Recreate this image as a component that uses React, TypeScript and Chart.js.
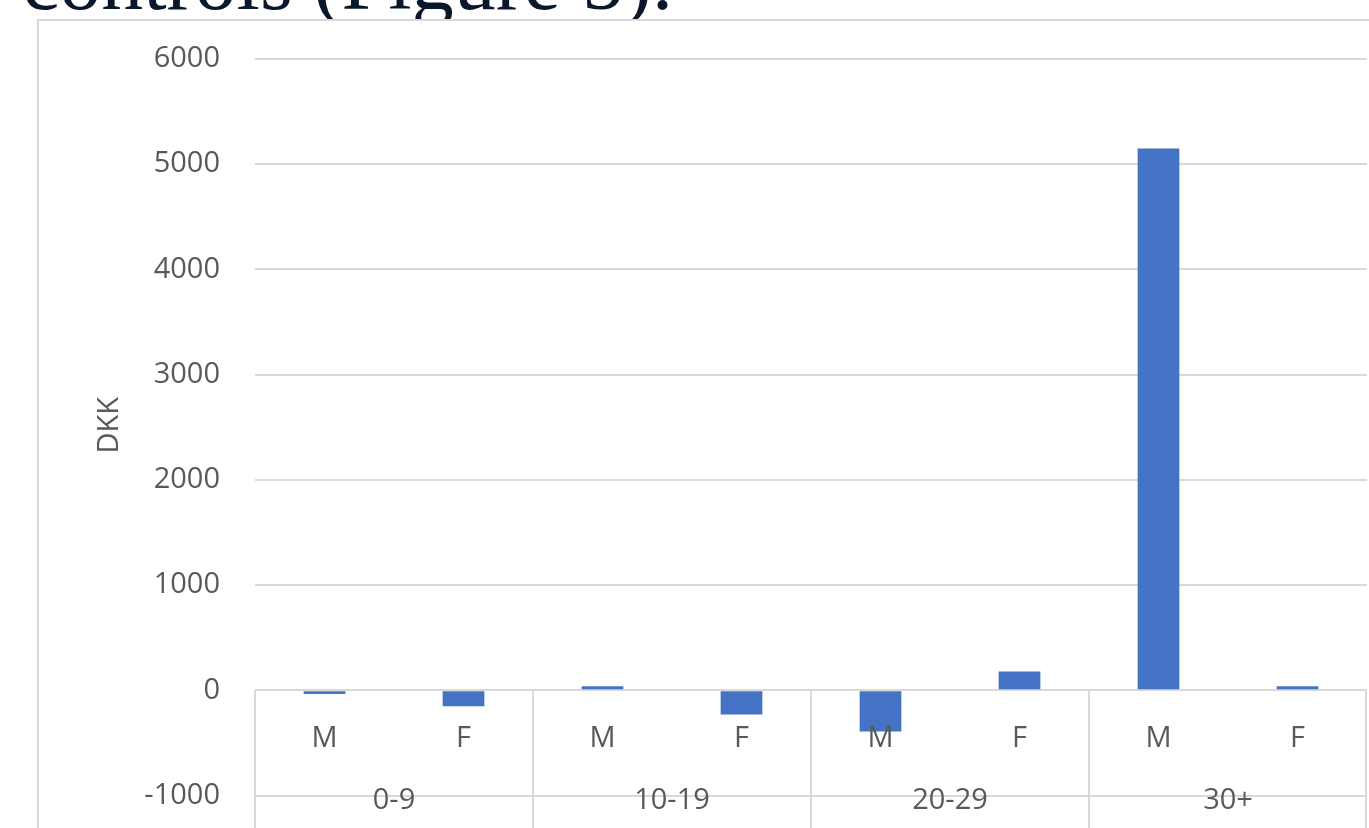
import React, { useEffect, useRef } from "react";
import { Chart, registerables } from "chart.js";

Chart.register(...registerables);

const groups: string[] = ["0-9", "10-19", "20-29", "30+"];
const sexes: string[] = ["M", "F"];
const values: number[] = [-35, -150, 40, -230, -390, 180, 5150, 40];
const yMin = -1000;
const yMax = 6000;
const yStep = 1000;
const yTitle = "DKK";
const heading = "controls (Figure 5).";

const labels: string[] = groups.flatMap((g) => sexes.map((s) => `${g} ${s}`));

const TEXT = "#595959";
const GRID = "#d9d9d9";
const FONT = "'Open Sans', 'Noto Sans', sans-serif";
const FS = 29;
const CANVAS_W = 1369;
const CANVAS_H = 848;

const labelPlugin = {
  id: "excelLabels",
  afterDraw(chart: any) {
    const ctx = chart.ctx as CanvasRenderingContext2D;
    const x = chart.scales.x;
    const y = chart.scales.y;
    const zero = y.getPixelForValue(0);
    const n = labels.length;
    const cw = (x.right - x.left) / n;
    ctx.save();
    ctx.fillStyle = TEXT;
    ctx.font = `${FS}px ${FONT}`;
    ctx.textAlign = "center";
    ctx.textBaseline = "middle";
    for (let i = 0; i < n; i++) {
      const px = x.getPixelForValue(i);
      ctx.fillText(sexes[i % sexes.length], px, zero + 48);
    }
    groups.forEach((g, gi) => {
      const a = x.getPixelForValue(gi * sexes.length);
      const b = x.getPixelForValue(gi * sexes.length + sexes.length - 1);
      ctx.fillText(g, (a + b) / 2, zero + 110);
    });
    ctx.strokeStyle = GRID;
    ctx.lineWidth = 2;
    for (let gi = 0; gi <= groups.length; gi++) {
      let bx = x.left + gi * sexes.length * cw;
      if (gi === groups.length) bx -= 1;
      ctx.beginPath();
      ctx.moveTo(bx, zero);
      ctx.lineTo(bx, chart.height);
      ctx.stroke();
    }
    ctx.translate(110, (y.top + y.bottom) / 2 - 2);
    ctx.rotate(-Math.PI / 2);
    ctx.fillText(yTitle, 0, 0);
    ctx.restore();
  },
};

export default function App() {
  const ref = useRef<HTMLCanvasElement | null>(null);

  useEffect(() => {
    if (!ref.current) return;
    const chart = new Chart(ref.current, {
      type: "bar",
      data: {
        labels,
        datasets: [
          {
            data: values,
            backgroundColor: "#4472c4",
            categoryPercentage: 1,
            barPercentage: 0.3,
          },
        ],
      },
      options: {
        animation: false,
        responsive: false,
        maintainAspectRatio: false,
        layout: { padding: { top: 59, bottom: 12, left: 0, right: 2 } },
        plugins: {
          legend: { display: false },
          tooltip: { enabled: false },
          title: { display: false },
        },
        scales: {
          x: {
            display: false,
            offset: true,
          },
          y: {
            min: yMin,
            max: yMax,
            afterFit(scale: any) {
              scale.width = 255;
            },
            ticks: {
              stepSize: yStep,
              padding: 35,
              color: TEXT,
              font: { family: FONT, size: FS },
              callback: (v: any) => String(v),
            },
            grid: {
              color: GRID,
              lineWidth: 2,
              drawTicks: false,
            },
            border: { display: false },
          },
        },
      },
      plugins: [labelPlugin],
    });
    return () => chart.destroy();
  }, []);

  return (
    <div
      style={{
        position: "fixed",
        left: 0,
        top: 0,
        width: 1369,
        height: 828,
        overflow: "hidden",
        background: "#ffffff",
      }}
    >
      <div
        style={{
          position: "absolute",
          left: 22,
          top: -61,
          fontFamily: "'Liberation Serif', 'Times New Roman', serif",
          fontSize: 84,
          lineHeight: "84px",
          color: "#081729",
          whiteSpace: "nowrap",
        }}
      >
        {heading}
      </div>
      <div
        style={{
          position: "absolute",
          left: 37,
          top: 19,
          width: 1400,
          height: 900,
          background: "#ffffff",
          border: `2px solid ${GRID}`,
        }}
      />
      <canvas
        ref={ref}
        width={CANVAS_W}
        height={CANVAS_H}
        style={{ position: "absolute", left: 0, top: 0, width: CANVAS_W, height: CANVAS_H }}
      />
    </div>
  );
}
